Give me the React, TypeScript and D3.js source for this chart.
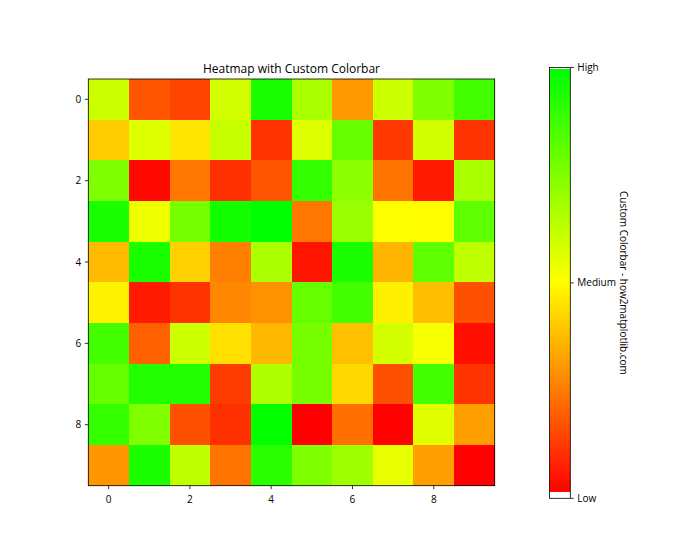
import React from "react";
import * as d3 from "d3";

const rows = d3.range(10);
const cols = d3.range(10);
const values: number[][] = [
  [0.6, 0.167, 0.133, 0.584, 0.95, 0.667, 0.3, 0.6, 0.75, 0.867],
  [0.4, 0.567, 0.45, 0.61, 0.1, 0.567, 0.8, 0.114, 0.584, 0.1],
  [0.75, 0.016, 0.233, 0.094, 0.167, 0.9, 0.725, 0.225, 0.05, 0.667],
  [0.95, 0.533, 0.767, 0.967, 1.0, 0.233, 0.7, 0.503, 0.497, 0.815],
  [0.367, 0.95, 0.41, 0.25, 0.667, 0.04, 0.95, 0.353, 0.815, 0.624],
  [0.475, 0.05, 0.1, 0.267, 0.286, 0.8, 0.867, 0.47, 0.373, 0.157],
  [0.867, 0.188, 0.6, 0.44, 0.36, 0.767, 0.376, 0.584, 0.514, 0.03],
  [0.8, 0.933, 0.933, 0.118, 0.655, 0.767, 0.424, 0.157, 0.867, 0.1],
  [0.9, 0.75, 0.157, 0.094, 0.998, 0.0, 0.22, 0.004, 0.56, 0.314],
  [0.294, 0.95, 0.624, 0.225, 0.918, 0.75, 0.686, 0.545, 0.314, 0.002],
];
const tickValues = [0, 2, 4, 6, 8];
const cmapColors = ["#ff0000", "#ffff00", "#00ff00"];
const cbTickValues = [0, 0.5, 1];
const cbTickLabels = ["Low", "Medium", "High"];
const title = "Heatmap with Custom Colorbar";
const cbLabel = "Custom Colorbar - how2matplotlib.com";

const FONT = "'Open Sans', 'DejaVu Sans', sans-serif";

export default function App() {
  const W = 700, H = 560;
  const left = 88.3, right = 494.7, top = 79, bottom = 485.7;
  const x = d3.scaleBand<number>().domain(cols).range([left, right]).padding(0);
  const y = d3.scaleBand<number>().domain(rows).range([top, bottom]).padding(0);
  const flat = values.flat();
  const norm = d3.scaleLinear().domain([d3.min(flat)!, d3.max(flat)!]).range([0, 1]);
  const interp = d3.piecewise(d3.interpolateRgb, cmapColors);
  const color = (v: number) => interp(norm(v));

  const cbLeft = 549.5, cbRight = 570.3;
  const cbScale = d3.scaleLinear().domain([0, 1]).range([498.3, 67.5]);
  const gTop = cbScale(0.9965);
  const gBot = cbScale(0.0147);
  const stops = d3.range(0, 1.0001, 0.05);

  return (
    <svg width={W} height={H} style={{ display: "block", position: "absolute", left: 0, top: 0 }} fontFamily={FONT}>
      <rect x={0} y={0} width={W} height={H} fill="#fff" />
      <defs>
        <linearGradient id="cbgrad" x1="0" y1="1" x2="0" y2="0">
          {stops.map((s) => (
            <stop key={s} offset={s} stopColor={interp(s)} />
          ))}
        </linearGradient>
      </defs>
      <g shapeRendering="crispEdges">
        {values.map((row, i) =>
          row.map((v, j) => (
            <rect key={`${i}-${j}`} x={x(j)} y={y(i)} width={x.bandwidth() + 0.5} height={y.bandwidth() + 0.5} fill={color(v)} />
          ))
        )}
      </g>
      <rect x={left} y={top} width={right - left} height={bottom - top} fill="none" stroke="#000" strokeWidth={0.8} />
      {tickValues.map((t) => {
        const cx = x(t)! + x.bandwidth() / 2;
        return (
          <g key={`xt${t}`}>
            <line x1={cx} x2={cx} y1={bottom} y2={bottom + 3.5} stroke="#000" strokeWidth={0.8} />
            <text x={cx} y={bottom + 17} textAnchor="middle" fontSize={10} fill="#000">{t}</text>
          </g>
        );
      })}
      {tickValues.map((t) => {
        const cy = y(t)! + y.bandwidth() / 2;
        return (
          <g key={`yt${t}`}>
            <line x1={left} x2={left - 3.5} y1={cy} y2={cy} stroke="#000" strokeWidth={0.8} />
            <text x={left - 7} y={cy} dy="0.35em" textAnchor="end" fontSize={10} fill="#000">{t}</text>
          </g>
        );
      })}
      <text x={(left + right) / 2} y={top - 6} textAnchor="middle" fontSize={12} fill="#000">{title}</text>

      <rect x={cbLeft} y={gTop} width={cbRight - cbLeft} height={gBot - gTop} fill="url(#cbgrad)" />
      <rect x={cbLeft} y={cbScale(1)} width={cbRight - cbLeft} height={cbScale(0) - cbScale(1)} fill="none" stroke="#000" strokeWidth={0.8} />
      {cbTickValues.map((t, i) => (
        <g key={`cb${t}`}>
          <line x1={cbRight} x2={cbRight + 3.5} y1={cbScale(t)} y2={cbScale(t)} stroke="#000" strokeWidth={0.8} />
          <text x={cbRight + 7} y={cbScale(t)} dy="0.35em" fontSize={10} fill="#000">{cbTickLabels[i]}</text>
        </g>
      ))}
      <text transform={`translate(${623},${(cbScale(0) + cbScale(1)) / 2}) rotate(90)`} textAnchor="middle" dy="0.35em" fontSize={10} fill="#000">{cbLabel}</text>
    </svg>
  );
}
